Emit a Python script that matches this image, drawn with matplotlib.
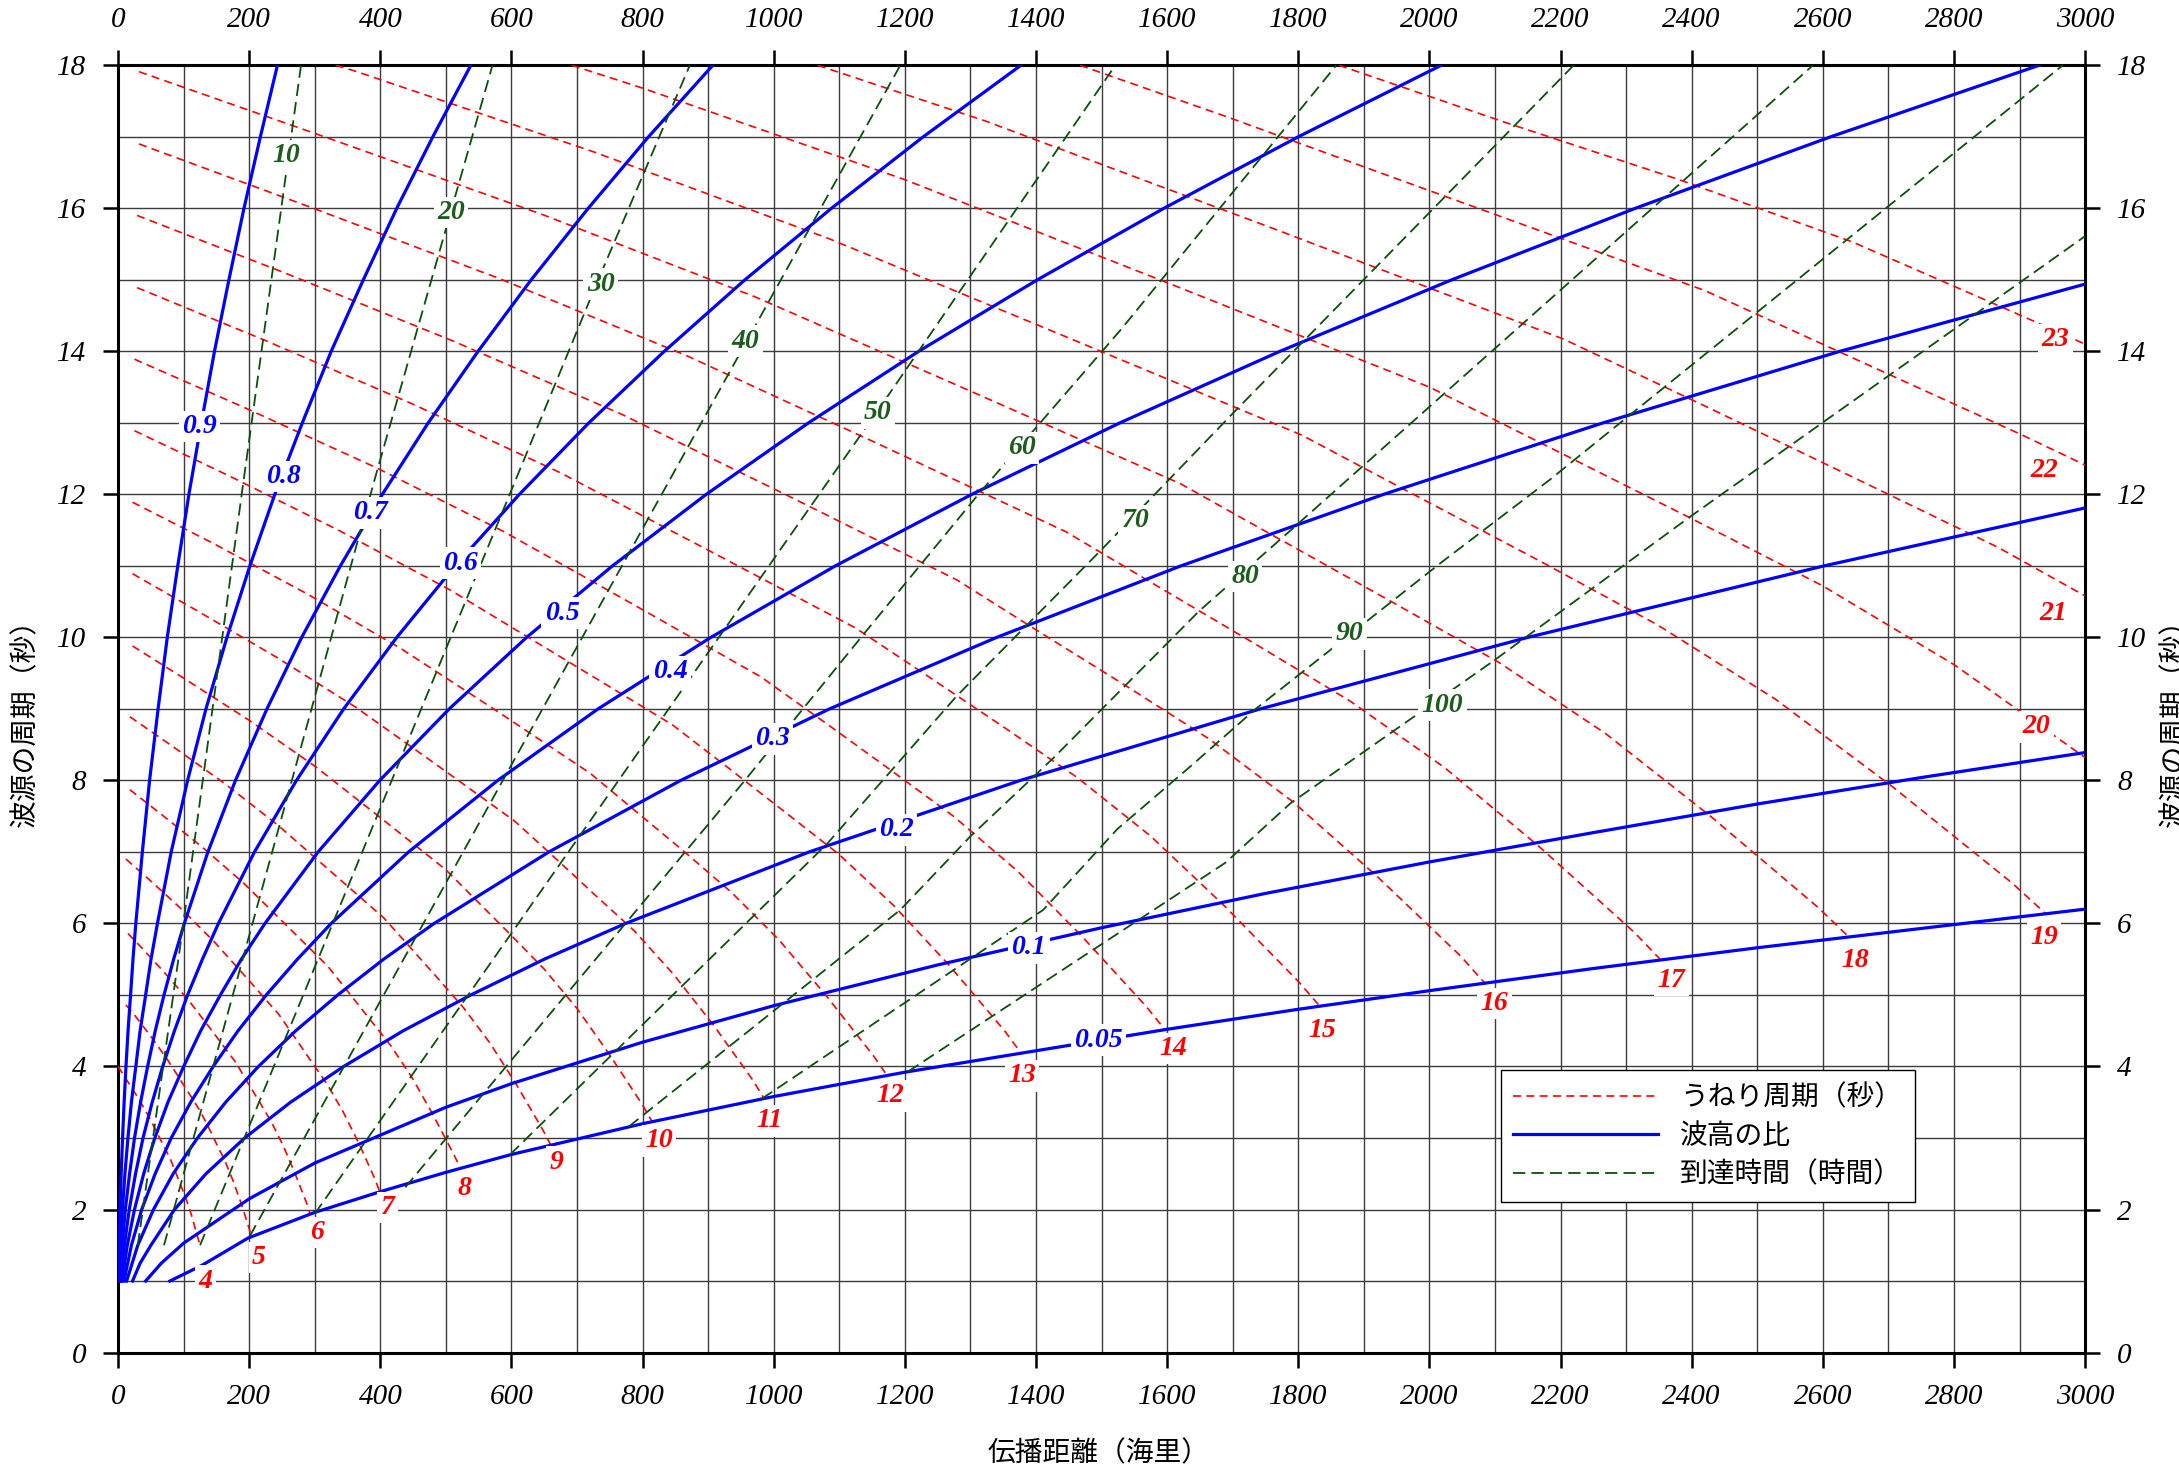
import matplotlib
matplotlib.use("Agg")
import matplotlib.pyplot as plt
from matplotlib.ticker import MultipleLocator
from matplotlib.font_manager import FontProperties

plt.rcParams['font.family'] = ['Liberation Serif', 'DejaVu Serif']
plt.rcParams['font.style'] = 'italic'
CJK = ['Noto Sans CJK JP', 'DejaVu Sans']

# ---- swell period lines (distance nmi, source period s) ----
swell_04 = [(0, 4.0), (16, 3.77), (32, 3.54), (48, 3.28), (64, 2.99), (80, 2.70), (96, 2.33), (104, 2.14), (112, 1.92), (120, 1.66), (125, 1.5)]
swell_05 = [(12, 4.86), (25, 4.72), (50, 4.42), (75, 4.10), (100, 3.74), (125, 3.38), (138, 3.15), (150, 2.92), (163, 2.68), (175, 2.41), (188, 2.08), (200, 1.73), (204, 1.61)]
swell_06 = [(15, 5.86), (36, 5.66), (72, 5.30), (108, 4.92), (144, 4.49), (180, 4.05), (198, 3.77), (216, 3.50), (234, 3.22), (252, 2.89), (270, 2.50), (288, 2.08), (293, 1.93)]
swell_07 = [(12, 6.90), (49, 6.60), (98, 6.19), (147, 5.74), (196, 5.24), (245, 4.73), (270, 4.40), (294, 4.08), (319, 3.75), (343, 3.37), (368, 2.91), (392, 2.42), (399, 2.25)]
swell_08 = [(18, 7.87), (64, 7.54), (128, 7.07), (192, 6.56), (256, 5.98), (320, 5.40), (352, 5.03), (384, 4.66), (416, 4.29), (448, 3.85), (480, 3.33), (512, 2.77), (522, 2.58)]
swell_09 = [(18, 8.89), (81, 8.49), (162, 7.96), (243, 7.38), (324, 6.73), (405, 6.08), (446, 5.66), (486, 5.25), (527, 4.82), (567, 4.33), (608, 3.74), (648, 3.11), (660, 2.90)]
swell_10 = [(22, 9.88), (100, 9.43), (200, 8.84), (300, 8.20), (400, 7.48), (500, 6.75), (550, 6.29), (600, 5.83), (650, 5.36), (700, 4.81), (750, 4.16), (800, 3.46), (815, 3.22)]
swell_11 = [(22, 10.89), (121, 10.37), (242, 9.72), (363, 9.02), (484, 8.23), (605, 7.43), (666, 6.92), (726, 6.41), (787, 5.90), (847, 5.29), (908, 4.58), (968, 3.81), (986, 3.54)]
swell_12 = [(22, 11.89), (144, 11.32), (288, 10.61), (432, 9.84), (576, 8.98), (720, 8.10), (792, 7.55), (864, 7.00), (936, 6.43), (1008, 5.77), (1080, 4.99), (1152, 4.15), (1174, 3.86)]
swell_13 = [(25, 12.89), (169, 12.26), (338, 11.49), (507, 10.66), (676, 9.72), (845, 8.78), (930, 8.18), (1014, 7.58), (1099, 6.97), (1183, 6.25), (1268, 5.41), (1352, 4.50), (1377, 4.19)]
swell_14 = [(25, 13.89), (196, 13.20), (392, 12.38), (588, 11.48), (784, 10.47), (980, 9.45), (1078, 8.81), (1176, 8.16), (1274, 7.50), (1372, 6.73), (1470, 5.82), (1568, 4.84), (1597, 4.51)]
swell_15 = [(29, 14.89), (225, 14.15), (450, 13.26), (675, 12.30), (900, 11.22), (1125, 10.13), (1238, 9.44), (1350, 8.75), (1463, 8.04), (1575, 7.22), (1688, 6.24), (1800, 5.19), (1834, 4.83)]
swell_16 = [(29, 15.90), (256, 15.09), (512, 14.14), (768, 13.12), (1024, 11.97), (1280, 10.80), (1408, 10.06), (1536, 9.33), (1664, 8.58), (1792, 7.70), (1920, 6.66), (2048, 5.54), (2086, 5.15)]
swell_17 = [(32, 16.90), (289, 16.03), (578, 15.03), (867, 13.94), (1156, 12.72), (1445, 11.48), (1590, 10.69), (1734, 9.91), (1879, 9.11), (2023, 8.18), (2168, 7.07), (2312, 5.88), (2355, 5.47)]
swell_18 = [(32, 17.91), (324, 16.97), (648, 15.91), (972, 14.76), (1296, 13.46), (1620, 12.15), (1782, 11.32), (1944, 10.49), (2106, 9.65), (2268, 8.66), (2430, 7.49), (2592, 6.23), (2641, 5.80)]
swell_19 = [(332, 18.0), (361, 17.92), (722, 16.80), (1083, 15.58), (1444, 14.21), (1805, 12.83), (1986, 11.95), (2166, 11.08), (2347, 10.18), (2527, 9.14), (2708, 7.90), (2888, 6.57), (2942, 6.12)]
swell_20 = [(692, 18.0), (800, 17.68), (1200, 16.40), (1600, 14.96), (2000, 13.50), (2200, 12.58), (2400, 11.66), (2600, 10.72), (2800, 9.62), (3000, 8.32)]
swell_21 = [(1067, 18.0), (1323, 17.22), (1764, 15.71), (2205, 14.17), (2426, 13.21), (2646, 12.24), (2867, 11.26), (3000, 10.58)]
swell_22 = [(1467, 18.0), (1694, 17.27), (1936, 16.46), (2420, 14.85), (2662, 13.84), (2904, 12.83), (3000, 12.41)]
swell_23 = [(1862, 18.0), (2116, 17.2), (2381, 16.40), (2645, 15.53), (2910, 14.47), (3000, 14.1)]

swell_lines = [swell_04, swell_05, swell_06, swell_07, swell_08, swell_09, swell_10, swell_11,
               swell_12, swell_13, swell_14, swell_15, swell_16, swell_17, swell_18, swell_19,
               swell_20, swell_21, swell_22, swell_23]
swell_labels = [str(p) for p in range(4, 24)]
swell_label_pos = [(133, 1.0), (215, 1.33), (303, 1.68), (411, 2.03), (528, 2.29), (668, 2.66),
                   (825, 2.96), (993, 3.24), (1177, 3.59), (1379, 3.87), (1609, 4.25), (1836, 4.5),
                   (2099, 4.88), (2369, 5.2), (2650, 5.48), (2937, 5.8), (2926, 8.75), (2952, 10.34),
                   (2937, 12.34), (2955, 14.16)]

# ---- wave height ratio curves ----
ratio_09 = [(0.75, 1), (1.7, 1.5), (3, 2), (4.7, 2.5), (6.8, 3), (9.2, 3.5), (12, 4), (15.2, 4.5), (19, 5), (22.7, 5.5), (27, 6), (37, 7), (48, 8), (61, 9), (75, 10), (91, 11), (108, 12), (127, 13), (147, 14), (169, 15), (192, 16), (217, 17), (243, 18)]
ratio_08 = [(1.7, 1), (3.7, 1.5), (6.6, 2), (10.4, 2.5), (15, 3), (20.3, 3.5), (27, 4), (33.6, 4.5), (42, 5), (50.2, 5.5), (60, 6), (81, 7), (106, 8), (134, 9), (166, 10), (201, 11), (239, 12), (281, 13), (325, 14), (374, 15), (425, 16), (480, 17), (538, 18)]
ratio_07 = [(2.8, 1), (6.3, 1.5), (11, 2), (17.5, 2.5), (25, 3), (34.3, 3.5), (45, 4), (56.7, 4.5), (70, 5), (84.7, 5.5), (101, 6), (137, 7), (179, 8), (227, 9), (280, 10), (339, 11), (403, 12), (473, 13), (549, 14), (630, 15), (717, 16), (809, 17), (907, 18)]
ratio_06 = [(4, 1), (9.6, 1.5), (17, 2), (26.6, 2.5), (38, 3), (52, 3.5), (68, 4), (86, 4.5), (106, 5), (128.6, 5.5), (153, 6), (208, 7), (272, 8), (344, 9), (425, 10), (514, 11), (612, 12), (718, 13), (833, 14), (956, 15), (1088, 16), (1228, 17), (1377, 18)]
ratio_05 = [(6, 1), (14, 1.5), (25, 2), (39, 2.5), (56, 3), (76, 3.5), (100, 4), (126, 4.5), (156, 5), (188, 5.5), (224, 6), (305, 7), (399, 8), (505, 9), (623, 10), (754, 11), (897, 12), (1053, 13), (1221, 14), (1402, 15), (1595, 16), (1800, 17), (2018, 18)]
ratio_04 = [(9, 1), (20.3, 1.5), (36, 2), (56.5, 2.5), (81, 3), (110.7, 3.5), (145, 4), (183, 4.5), (226, 5), (273.5, 5.5), (325, 6), (443, 7), (579, 8), (732, 9), (904, 10), (1094, 11), (1302, 12), (1528, 13), (1772, 14), (2034, 15), (2314, 16), (2612, 17), (2930, 18)]
ratio_03 = [(13, 1), (30, 1.5), (54, 2), (84, 2.5), (121, 3), (164, 3.5), (214, 4), (271, 4.5), (335, 5), (405, 5.5), (482, 6), (657, 7), (858, 8), (1085, 9), (1340, 10), (1621, 11), (1930, 12), (2265, 13), (2626, 14), (3000, 14.94)]
ratio_02 = [(22, 1), (33.6, 1.25), (50, 1.5), (86, 2), (134, 2.5), (193, 3), (263, 3.5), (344, 4), (435, 4.5), (538, 5), (650, 5.5), (774, 6), (1054, 7), (1376, 8), (1742, 9), (2150, 10), (2602, 11), (3000, 11.81)]
ratio_01 = [(42, 1), (66, 1.25), (100, 1.53), (200, 2.15), (300, 2.65), (400, 3.04), (500, 3.43), (600, 3.76), (800, 4.34), (1000, 4.85), (1250, 5.42), (1500, 5.94), (1750, 6.42), (2000, 6.86), (2250, 7.27), (2500, 7.67), (2750, 8.04), (3000, 8.39)]
ratio_005 = [(79, 1), (128, 1.22), (198, 1.6), (300, 1.96), (400, 2.25), (500, 2.52), (600, 2.77), (800, 3.2), (1000, 3.58), (1200, 3.92), (1400, 4.22), (1600, 4.52), (1800, 4.8), (2000, 5.06), (2250, 5.37), (2500, 5.66), (2750, 5.93), (3000, 6.2)]

ratio_lines = [ratio_09, ratio_08, ratio_07, ratio_06, ratio_05, ratio_04, ratio_03, ratio_02, ratio_01, ratio_005]
ratio_labels = ['0.9', '0.8', '0.7', '0.6', '0.5', '0.4', '0.3', '0.2', '0.1', '0.05']
ratio_label_pos = [(124, 12.95), (252, 12.25), (385, 11.74), (522, 11.04), (677, 10.34),
                   (842, 9.52), (998, 8.58), (1187, 7.31), (1389, 5.66), (1495, 4.37)]

# ---- arrival time lines (hours) ----
time_10 = [(30, 1.5), (95, 5.7), (190, 12.1), (279, 18.0)]
time_20 = [(70, 1.5), (391, 12.2), (571, 18.0)]
time_30 = [(125, 1.5), (729, 14.93), (872, 18.0)]
time_40 = [(201, 1.63), (958, 14.13), (1193, 18.0)]
time_50 = [(300, 1.94), (1157, 13.15), (1521, 18.0)]
time_60 = [(438, 2.31), (955, 7.99), (1134, 10.01), (1312, 12.0), (1530, 14.31), (1858, 18.0)]
time_70 = [(598, 2.77), (1081, 7.11), (1279, 9.18), (1497, 11.2), (1702, 13.15), (2220, 18.0)]
time_80 = [(779, 3.16), (1193, 6.19), (1299, 7.21), (1425, 8.3), (1543, 9.39), (1649, 10.37), (1801, 11.6), (2585, 18.0)]
time_90 = [(982, 3.55), (1411, 6.19), (1524, 7.32), (1636, 8.2), (1735, 9.0), (2017, 11.04), (2183, 12.2), (2966, 18.0)]
time_100 = [(1205, 3.93), (1689, 6.85), (1788, 7.68), (2096, 9.66), (2398, 11.69), (3000, 15.61)]

time_lines = [time_10, time_20, time_30, time_40, time_50, time_60, time_70, time_80, time_90, time_100]
time_labels = ['10', '20', '30', '40', '50', '60', '70', '80', '90', '100']
time_label_pos = [(256, 16.74), (508, 15.94), (736, 14.94), (957, 14.14), (1159, 13.14),
                  (1379, 12.65), (1552, 11.63), (1719, 10.85), (1878, 10.05), (2020, 9.05)]

RED = '#ff0000'
BLUE = '#0000ff'
GREEN = '#0b4f0b'
GREEN_TXT = '#1c5c1c'

fig = plt.figure(figsize=(21.79, 14.70), dpi=100)
ax = fig.add_axes([0.0542, 0.0799, 0.9027, 0.8757])

for i, pts in enumerate(swell_lines):
    xs, ys = zip(*pts)
    ax.plot(xs, ys, color=RED, lw=1.2, dashes=(4.8, 3.2), zorder=3,
            label='うねり周期（秒）' if i == 0 else None)
for i, pts in enumerate(ratio_lines):
    xs, ys = zip(*pts)
    ax.plot(xs, ys, color=BLUE, lw=2.3, zorder=3, solid_joinstyle='round',
            label='波高の比' if i == 0 else None)
for i, pts in enumerate(time_lines):
    xs, ys = zip(*pts)
    ax.plot(xs, ys, color=GREEN, lw=1.3, dashes=(6.8, 3.4), zorder=3,
            label='到達時間（時間）' if i == 0 else None)

box = dict(boxstyle='square,pad=0.12', fc='white', ec='none')
lab_kw = dict(ha='center', va='center', fontsize=20, fontweight='bold', style='italic',
              bbox=box, zorder=6)
for s, (x, y) in zip(swell_labels, swell_label_pos):
    ax.text(x, y, s, color=RED, **lab_kw)
for s, (x, y) in zip(ratio_labels, ratio_label_pos):
    ax.text(x, y, s, color=BLUE, **lab_kw)
for s, (x, y) in zip(time_labels, time_label_pos):
    ax.text(x, y, s, color=GREEN_TXT, **lab_kw)

ax.set_xlim(0, 3000)
ax.set_ylim(0, 18)
ax.xaxis.set_major_locator(MultipleLocator(200))
ax.xaxis.set_minor_locator(MultipleLocator(100))
ax.yaxis.set_major_locator(MultipleLocator(2))
ax.yaxis.set_minor_locator(MultipleLocator(1))
ax.grid(which='both', color='#3c3c3c', lw=1.0, zorder=1)
ax.set_axisbelow(True)
ax.tick_params(which='major', direction='out', length=11, width=1.8, top=True, right=True,
               labeltop=True, labelright=True, labelsize=21, pad=12)
ax.tick_params(which='minor', length=0)
for sp in ax.spines.values():
    sp.set_linewidth(2.2)

fig.text(0.504, 0.0116, '伝播距離（海里）', family=CJK, style='normal', fontsize=20,
         ha='center', va='center')
fig.text(0.0115, 0.513, '波源の周期（秒）', family=CJK, style='normal', fontsize=20,
         rotation=90, ha='center', va='center')
fig.text(0.998, 0.513, '波源の周期（秒）', family=CJK, style='normal', fontsize=20,
         rotation=90, ha='center', va='center')

leg = ax.legend(loc='lower left', bbox_to_anchor=(0.703, 0.117),
                prop=FontProperties(family=CJK, size=20), fancybox=False, framealpha=1,
                edgecolor='black', handlelength=5.2, handletextpad=0.8, labelspacing=0.3,
                borderpad=0.45, borderaxespad=0)
leg.get_frame().set_linewidth(1.0)
leg.set_zorder(7)

fig.savefig('out.png', dpi=100)
